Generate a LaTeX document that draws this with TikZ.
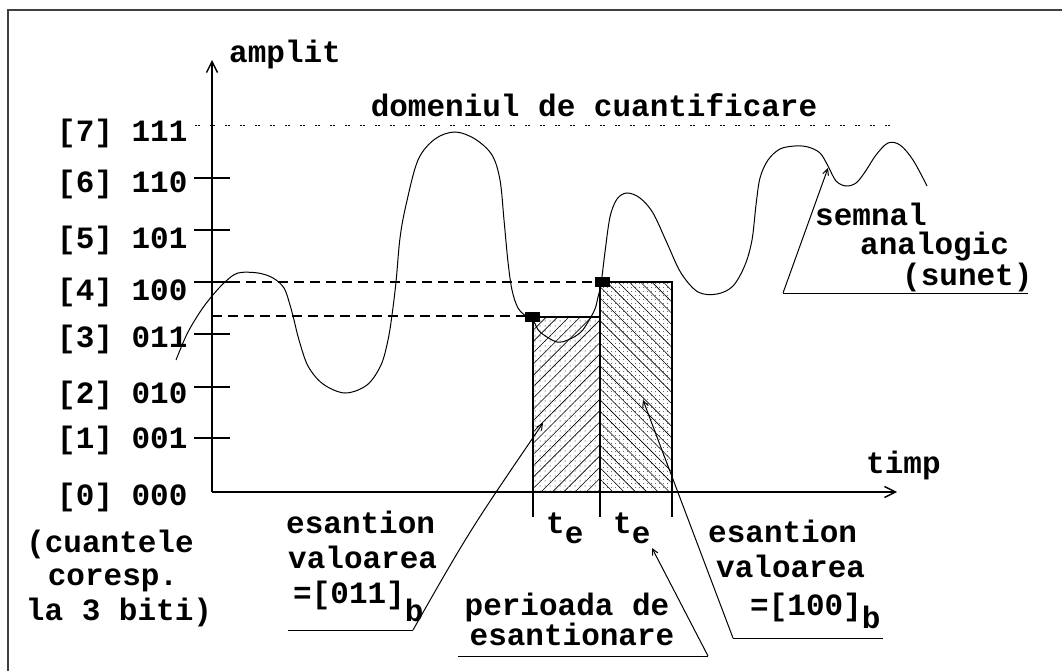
\documentclass[tikz,border=0pt]{standalone}
\usepackage{fontspec}
\setmainfont{Liberation Mono}
\usetikzlibrary{arrows.meta,patterns.meta}
\begin{document}
\begin{tikzpicture}[x=1pt,y=-1pt,
  txt/.style={inner sep=0pt, font=\fontsize{31}{35}\selectfont\bfseries, anchor=base west},
  ctxt/.style={txt, anchor=base},
  axis/.style={line width=1.4pt},
  tickl/.style={line width=1.2pt},
  sig/.style={line width=1pt},
  lead/.style={line width=1pt},
  leadarrow/.style={line width=1pt, -{Straight Barb[length=6pt,width=6pt]}},
  dash1/.style={line width=1.1pt, dash pattern=on 10pt off 6pt},
  marker/.style={fill=black, draw=none, minimum width=15pt, minimum height=10pt, inner sep=0pt},
  frame/.style={line width=2pt, draw=black!75}
]
\useasboundingbox (0,0) rectangle (1062,671);
% frame (cropped on right and bottom)
\draw[frame] (8,671) -- (8,10) -- (1062,10);

% axes
\coordinate (O) at (212,492);
\coordinate (Ytop) at (212,60);
\coordinate (Xend) at (897,492);
\draw[axis, -{Straight Barb[length=11pt,width=11pt]}] (O) -- (Ytop);
\draw[axis, -{Straight Barb[length=11pt,width=11pt]}] (O) -- (Xend);

% quantisation ticks
\foreach \y in {178,230,282,334,387,438}
  \draw[tickl] (194,\y) -- (230,\y);

% quantisation domain dotted line
\coordinate (d1) at (195,126);
\coordinate (d2) at (897,126);
\draw[line width=1pt, dash pattern=on 2pt off 1pt on 2pt off 10pt] (d1) -- (d2);

% sample rectangles with patterns
\coordinate (r1a) at (533,317);
\coordinate (r1b) at (600,492);
\coordinate (r2a) at (600,282);
\coordinate (r2b) at (672,492);
\fill[pattern={Lines[angle=45,distance=8pt,line width=0.6pt]}] (r1a) rectangle (r1b);
\fill[pattern={Dots[distance=5pt,radius=0.5pt]}] (r1a) rectangle (r1b);
\fill[pattern={Lines[angle=-45,distance=8pt,line width=0.6pt]}] (r2a) rectangle (r2b);
\fill[pattern={Dots[distance=4pt,radius=0.55pt]}] (r2a) rectangle (r2b);
\draw[line width=1.2pt] (r1a) rectangle (r1b);
\draw[line width=1.2pt] (r2a) rectangle (r2b);
\draw[tickl] (533,492) -- (533,517);
\draw[tickl] (600,492) -- (600,517);
\draw[tickl] (672,492) -- (672,517);

% dashed level lines
\draw[dash1] (230,282) -- (595,282);
\draw[dash1] (212,316) -- (525,316);

% analog signal
\draw[sig] plot[smooth, tension=0.55] coordinates {
 (176,360) (187,334) (200,312) (212,296) (225,282) (238,273) (258,273) (273,278) (284,288)
 (290,305) (294,320) (299,340) (308,366) (323,384) (345,393) (367,385) (381,365) (388,340)
 (392,315) (396,282) (400,238) (406,205) (418,160) (435,139) (455,132) (475,139) (492,155)
 (500,180) (504,220) (508,262) (512,290) (518,308) (527,317) (534,322) (540,332) (557,342)
 (570,339) (581,332) (588,322) (595,309) (598,297) (601,284) (605,252) (610,217) (617,199)
 (627,193) (640,198) (653,213) (667,243) (681,273) (698,292) (717,294) (733,286) (745,265)
 (752,240) (756,205) (760,178) (768,160) (780,149) (795,146) (808,147) (820,153) (828,166)
 (836,181) (846,186) (856,183) (865,172) (876,155) (888,143) (900,145) (913,160) (927,186)};

% sample markers
\node[marker] (m1) at (532,317) {};
\node[marker] (m2) at (602,282) {};

% level labels
\node[txt] (l7) at (57,142) {[7] 111};
\node[txt] (l6) at (57,193) {[6] 110};
\node[txt] (l5) at (57,248) {[5] 101};
\node[txt] (l4) at (57,300) {[4] 100};
\node[txt] (l3) at (57,347) {[3] 011};
\node[txt] (l2) at (57,403) {[2] 010};
\node[txt] (l1) at (57,448) {[1] 001};
\node[txt] (l0) at (57,505) {[0] 000};

\node[ctxt] (q1) at (110,552) {(cuantele};
\node[ctxt] (q2) at (113,585) {coresp.};
\node[ctxt] (q3) at (119,620) {la 3 biti)};

% axis labels
\node[txt] (amp) at (229,63) {amplit};
\node[txt] (timp) at (866,473) {timp};
\node[ctxt] (dom) at (594,117) {domeniul de cuantificare};

% signal label
\node[txt] (s1) at (815,225) {semnal};
\node[txt] (s2) at (860,254) {analogic};
\node[txt] (s3) at (902,285) {(sunet)};
\coordinate (su1) at (783,293);
\coordinate (su2) at (1028,293);
\coordinate (sarr) at (828,168);
\draw[lead] (su2) -- (su1);
\draw[leadarrow] (su1) -- (sarr);

% t_e labels
\node[txt] (te1) at (546,533) {t\raisebox{-10pt}{e}};
\node[txt] (te2) at (613,533) {t\raisebox{-10pt}{e}};

% left sample label
\node[txt] (e1) at (286,533) {esantion};
\node[txt] (e2) at (288,568) {valoarea};
\node[txt] (e3) at (293,603) {=[011]\raisebox{-18pt}{b}};
\coordinate (eu1) at (288,630);
\coordinate (eu2) at (413,630);
\coordinate (earr) at (543,423);
\draw[lead] (eu1) -- (eu2);
\draw[leadarrow] (eu2) .. controls (470,530) .. (earr);

% sampling period label
\node[ctxt] (p1) at (567,615) {perioada de};
\node[ctxt] (p2) at (572,645) {esantionare};
\coordinate (pu1) at (458,656);
\coordinate (pu2) at (708,656);
\coordinate (parr) at (652,548);
\draw[lead] (pu1) -- (pu2);
\draw[leadarrow] (pu2) -- (parr);

% right sample label
\node[txt] (f1) at (708,542) {esantion};
\node[txt] (f2) at (716,577) {valoarea};
\node[txt] (f3) at (750,615) {=[100]\raisebox{-13pt}{b}};
\coordinate (fu1) at (733,638);
\coordinate (fu2) at (883,638);
\coordinate (farr) at (643,400);
\draw[lead] (fu1) -- (fu2);
\draw[leadarrow] (fu1) -- (farr);
\end{tikzpicture}
\end{document}
